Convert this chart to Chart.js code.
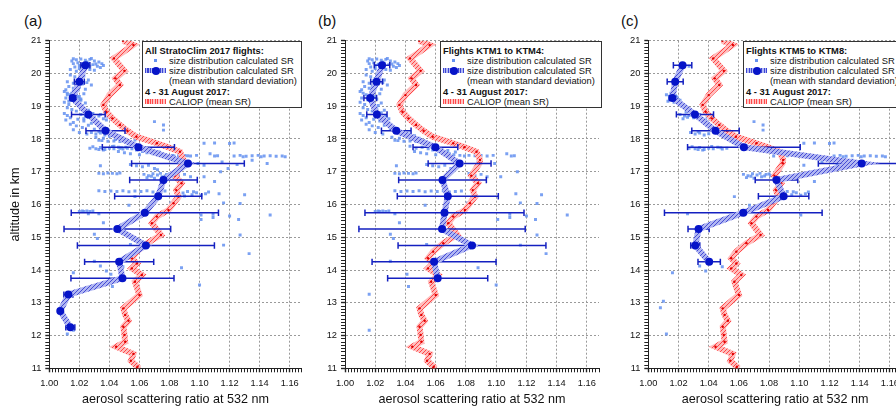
<!DOCTYPE html>
<html>
<head>
<meta charset="utf-8">
<script src="https://cdn.jsdelivr.net/npm/chart.js"></script>
<style>
    body { margin: 0; width: 896px; height: 407px; overflow: hidden; background: #fff; position: relative; font-family: "Liberation Sans", Arial, sans-serif; color: #111; }
    canvas { position: absolute; top: 0; }
    .tag { position: absolute; top: 12px; font-size: 15px; line-height: 17px; }
    .leg { position: absolute; top: 41px; height: 65px; border: 1px solid #333; background: #fff; z-index: 5; }
    .leg span { position: absolute; white-space: nowrap; font-size: 9.35px; line-height: 10px; }
    .leg .hd { font-weight: bold; left: 2px; }
    .leg .tx { left: 26px; }
    .sq { position: absolute; left: 11px; top: 17px; width: 3px; height: 3px; background: rgb(100,145,240); }
    .bband { position: absolute; left: 2px; top: 26px; width: 21px; height: 5px; background: repeating-linear-gradient(90deg, #3c44d4 0 1px, #b0b8f4 1px 2.5px); }
    .dot { position: absolute; left: 8.5px; top: 24.5px; width: 8px; height: 8px; border-radius: 50%; background: #0614c8; }
    .rband { position: absolute; left: 2px; top: 57px; width: 21px; height: 5px; background: repeating-linear-gradient(90deg, #ff4a4a 0 1px, #ffc4c4 1px 2.5px); }
</style>
</head>
<body>
<div class="tag" style="left:24px">(a)</div>
<div class="tag" style="left:318px">(b)</div>
<div class="tag" style="left:621px">(c)</div>

<canvas id="chartA" width="310" height="407" style="left:0px"></canvas>
<canvas id="chartB" width="310" height="407" style="left:300px"></canvas>
<canvas id="chartC" width="310" height="407" style="left:600px"></canvas>

<div class="leg" style="left:142px; width:158px">
    <span class="hd" style="top:4px">All StratoClim 2017 flights:</span>
    <i class="sq"></i><span class="tx" style="top:14px">size distribution calculated SR</span>
    <i class="bband"></i><i class="dot"></i><span class="tx" style="top:24px">size distribution calculated SR</span>
    <span class="tx" style="top:34px">(mean with standard deviation)</span>
    <span class="hd" style="top:45px">4 - 31 August 2017:</span>
    <i class="rband"></i><span class="tx" style="top:55px">CALIOP (mean SR)</span>
</div>
<div class="leg" style="left:440px; width:160px">
    <span class="hd" style="top:4px">Flights KTM1 to KTM4:</span>
    <i class="sq"></i><span class="tx" style="top:14px">size distribution calculated SR</span>
    <i class="bband"></i><i class="dot"></i><span class="tx" style="top:24px">size distribution calculated SR</span>
    <span class="tx" style="top:34px">(mean with standard deviation)</span>
    <span class="hd" style="top:45px">4 - 31 August 2017:</span>
    <i class="rband"></i><span class="tx" style="top:55px">CALIOP (mean SR)</span>
</div>
<div class="leg" style="left:743px; width:160px">
    <span class="hd" style="top:4px">Flights KTM5 to KTM8:</span>
    <i class="sq"></i><span class="tx" style="top:14px">size distribution calculated SR</span>
    <i class="bband"></i><i class="dot"></i><span class="tx" style="top:24px">size distribution calculated SR</span>
    <span class="tx" style="top:34px">(mean with standard deviation)</span>
    <span class="hd" style="top:45px">4 - 31 August 2017:</span>
    <i class="rband"></i><span class="tx" style="top:55px">CALIOP (mean SR)</span>
</div>

<script>
// altitude bins (km) of the mean profiles
const altA = [20.25, 19.75, 19.25, 18.75, 18.25, 17.75, 17.25, 16.75, 16.25, 15.75, 15.25, 14.75, 14.25, 13.75, 13.25, 12.75, 12.25];
const meanA = [1.024, 1.020, 1.0156, 1.026, 1.0374, 1.0593, 1.0923, 1.076, 1.0725, 1.0636, 1.0453, 1.0643, 1.0465, 1.0487, 1.0127, 1.0073, 1.014];
const sdA = [0.003, 0.0033, 0.0015, 0.0112, 0.013, 0.024, 0.0375, 0.0225, 0.029, 0.049, 0.0355, 0.0456, 0.023, 0.0343, 0.003, 0.0008, 0.003];

const altB = [20.25, 19.75, 19.25, 18.75, 18.25, 17.75, 17.25, 16.75, 16.25, 15.75, 15.25, 14.75, 14.25, 13.75];
const meanB = [1.0245, 1.0209, 1.0167, 1.0211, 1.0339, 1.0598, 1.0758, 1.0645, 1.068, 1.0658, 1.0642, 1.084, 1.0589, 1.0613];
const sdB = [0.0051, 0.0039, 0.0042, 0.0067, 0.0098, 0.0148, 0.0208, 0.029, 0.0334, 0.0526, 0.055, 0.0489, 0.041, 0.0331];

const altC = [20.25, 19.75, 19.25, 18.75, 18.25, 17.75, 17.25, 16.75, 16.25, 15.75, 15.25, 14.75, 14.25];
const meanC = [1.0227, 1.0178, 1.016, 1.0309, 1.0445, 1.0633, 1.1413, 1.0849, 1.0896, 1.0629, 1.0333, 1.0311, 1.0403];
const sdC = [0.0061, 0.0053, 0.002, 0.0123, 0.0157, 0.0373, 0.0287, 0.0141, 0.0167, 0.0522, 0.007, 0.003, 0.0074];

// CALIOP mean SR, 4 - 31 August 2017
const caliopAlt = [21.00, 20.87, 20.46, 20.08, 19.85, 19.65, 19.34, 19.04, 18.83, 18.63, 18.43, 18.25, 18.07, 17.87, 17.75, 17.61, 17.36,
    17.26, 16.88, 16.65, 16.44, 16.24, 16.04, 15.83, 15.63, 15.43, 15.07, 14.82, 14.56, 14.36, 14.20, 14.05, 13.85, 13.64, 13.24,
    12.83, 12.63, 12.45, 12.27, 12.02, 11.81, 11.66, 11.44, 11.23, 11.05, 11.00];
const caliopSR = [1.049, 1.056, 1.043, 1.050, 1.044, 1.047, 1.040, 1.036, 1.038, 1.042, 1.047, 1.052, 1.058, 1.0716, 1.079, 1.087, 1.0893,
    1.089, 1.0835, 1.088, 1.0845, 1.086, 1.0827, 1.0793, 1.0716, 1.0683, 1.0743, 1.065, 1.0583, 1.0549, 1.0583, 1.0549, 1.0616, 1.057, 1.060,
    1.0493, 1.0505, 1.0527, 1.0493, 1.050, 1.0505, 1.0445, 1.056, 1.0543, 1.0587, 1.0583];

// single size distribution SR values [SR, altitude], flights KTM1-KTM4
const scatterB = [
    [1.015,20.38],[1.018,20.42],[1.021,20.44],[1.024,20.40],[1.027,20.43],[1.030,20.38],[1.033,20.35],[1.035,20.30],[1.016,20.30],[1.019,20.33],
    [1.022,20.28],[1.026,20.31],[1.029,20.27],[1.032,20.22],[1.034,20.18],[1.017,20.20],[1.020,20.15],[1.023,20.19],[1.027,20.12],[1.030,20.10],
    [1.014,20.12],[1.018,20.07],[1.022,20.05],[1.025,20.35],[1.028,20.46],[1.031,20.29],[1.036,20.24],[1.020,20.24],[1.024,20.14],[1.016,20.45],
    [1.014,19.95],[1.017,19.90],[1.020,19.85],[1.023,19.92],[1.026,19.80],[1.012,19.75],[1.016,19.70],[1.019,19.78],[1.022,19.68],[1.025,19.72],
    [1.028,19.65],[1.013,19.60],[1.016,19.55],[1.020,19.58],[1.024,19.52],[1.011,19.50],[1.018,19.62],[1.021,19.98],
    [1.010,19.45],[1.012,19.40],[1.014,19.35],[1.017,19.42],[1.020,19.30],[1.023,19.38],[1.011,19.25],[1.015,19.20],[1.018,19.15],[1.021,19.22],
    [1.024,19.10],[1.013,19.05],[1.016,19.30],[1.019,19.48],[1.022,19.02],[1.010,19.12],
    [1.012,18.95],[1.015,18.90],[1.018,18.85],[1.021,18.92],[1.024,18.80],[1.027,18.70],[1.010,18.78],[1.014,18.65],[1.019,18.60],[1.023,18.55],
    [1.029,18.62],[1.016,18.50],[1.012,18.72],[1.026,18.88],[1.011,18.58],
    [1.014,18.45],[1.018,18.40],[1.022,18.35],[1.026,18.42],[1.030,18.30],[1.034,18.25],[1.038,18.20],[1.042,18.15],[1.046,18.10],[1.020,18.20],
    [1.025,18.15],[1.016,18.28],[1.031,18.05],[1.036,18.02],[1.040,18.08],[1.028,18.48],[1.044,17.98],[1.033,17.96],[1.049,18.02],
    [1.035,17.95],[1.039,17.93],[1.043,17.94],[1.047,17.92],[1.051,17.95],[1.054,17.90],
    [1.043,17.78],[1.047,17.72],[1.051,17.75],[1.055,17.70],[1.058,17.66],[1.062,17.62],[1.065,17.58],[1.069,17.55],[1.072,17.52],[1.076,17.50],
    [1.079,17.48],[1.046,17.62],[1.050,17.58],[1.054,17.55],[1.060,17.52],[1.064,17.70],[1.068,17.65],[1.057,17.80],[1.061,17.75],[1.073,17.60],
    [1.082,17.50],[1.086,17.49],[1.090,17.50],[1.094,17.48],[1.098,17.50],[1.107,17.55],[1.110,17.48],[1.112,17.49],
    [1.054,17.22],[1.058,17.18],[1.062,17.15],[1.066,17.20],[1.070,17.10],[1.072,17.06],[1.034,17.18],[1.099,17.25],[1.088,17.30],
    [1.033,16.95],[1.036,16.94],[1.039,16.96],[1.042,16.95],[1.045,16.94],[1.047,16.96],[1.082,16.95],[1.086,16.88],[1.090,16.92],[1.094,16.85],
    [1.103,16.85],[1.114,17.00],
    [1.033,16.42],[1.037,16.40],[1.041,16.41],[1.045,16.40],[1.049,16.42],[1.053,16.39],[1.057,16.41],[1.061,16.40],[1.065,16.42],[1.069,16.38],
    [1.073,16.40],[1.077,16.41],[1.113,16.33],[1.130,16.30],
    [1.020,15.79],[1.022,15.80],[1.023,15.79],[1.025,15.80],[1.027,15.79],[1.029,15.80],[1.033,15.72],[1.053,15.98],[1.081,16.05],[1.116,16.05],
    [1.127,16.03],[1.036,15.44],[1.030,15.09],[1.032,14.96],[1.101,15.54],[1.109,15.60],[1.120,15.65],[1.126,15.54],[1.147,15.68],[1.109,15.70],
    [1.127,15.07],[1.054,14.78],[1.116,14.76],[1.133,14.50],[1.030,14.27],[1.088,14.07],[1.041,13.87],[1.042,13.50],[1.100,13.54],[1.016,13.26],
    [1.016,12.16]
];

// flights KTM5-KTM8
const scatterC = [
    [1.027,20.22],[1.022,20.18],
    [1.012,19.35],[1.014,19.30],[1.016,19.25],[1.018,19.32],[1.020,19.20],[1.013,19.15],[1.015,19.40],[1.017,19.12],[1.019,19.28],[1.021,19.18],
    [1.014,19.22],[1.016,19.45],[1.018,19.55],
    [1.021,18.75],[1.024,18.70],[1.027,18.72],[1.030,18.65],[1.033,18.70],[1.036,18.62],[1.039,18.68],[1.041,18.60],[1.023,18.62],[1.026,18.66],
    [1.029,18.78],[1.034,18.75],[1.038,18.58],[1.025,18.82],
    [1.028,18.20],[1.031,18.15],[1.034,18.18],[1.037,18.12],[1.040,18.16],[1.033,18.22],[1.057,17.97],[1.070,18.53],[1.076,18.43],[1.076,18.27],
    [1.027,17.72],[1.031,17.70],[1.034,17.74],[1.037,17.68],[1.040,17.72],[1.043,17.70],[1.046,17.75],[1.049,17.69],[1.052,17.72],[1.029,17.76],
    [1.036,17.66],[1.042,17.77],[1.048,17.73],[1.033,17.68],
    [1.103,17.87],[1.110,17.88],[1.120,17.86],[1.123,17.88],
    [1.123,17.48],[1.127,17.50],[1.131,17.47],[1.135,17.49],[1.139,17.50],[1.143,17.48],[1.147,17.49],[1.151,17.47],[1.155,17.48],[1.157,17.46],
    [1.083,17.48],[1.088,17.47],[1.092,17.49],[1.129,17.46],[1.141,17.46],
    [1.115,17.30],[1.125,17.22],[1.135,17.35],[1.145,17.25],[1.119,17.10],[1.103,17.20],
    [1.063,16.92],[1.066,16.88],[1.069,16.94],[1.072,16.90],[1.075,16.85],[1.078,16.92],[1.081,16.88],[1.083,16.82],[1.065,16.82],[1.070,16.80],
    [1.074,16.95],[1.077,16.87],[1.080,16.93],[1.068,16.86],[1.110,16.70],
    [1.086,16.38],[1.089,16.35],[1.092,16.40],[1.095,16.30],[1.098,16.36],[1.101,16.28],[1.104,16.33],[1.106,16.38],[1.090,16.26],[1.096,16.39],
    [1.057,16.24],
    [1.067,15.98],[1.026,15.72],[1.101,15.68],[1.034,14.12],[1.038,13.97],[1.049,14.10],[1.016,13.92],[1.010,13.05],[1.008,12.85],[1.012,12.05]
];

const xTicksMajor = [1.00, 1.02, 1.04, 1.06, 1.08, 1.10, 1.12, 1.14, 1.16];
const yTicksMajor = [11, 12, 13, 14, 15, 16, 17, 18, 19, 20, 21];

function hatch(dark, light) {
    const c = document.createElement('canvas');
    c.width = 4; c.height = 4;
    const g = c.getContext('2d');
    g.fillStyle = light;
    g.fillRect(0, 0, 4, 4);
    g.strokeStyle = dark;
    g.lineWidth = 0.9;
    g.beginPath();
    g.moveTo(0, 4); g.lineTo(4, 0);
    g.moveTo(-1, 1); g.lineTo(1, -1);
    g.moveTo(3, 5); g.lineTo(5, 3);
    g.stroke();
    return g.createPattern(c, 'repeat');
}

const isMajorX = v => xTicksMajor.some(t => Math.abs(t - v) < 1e-6);
const isMajorY = v => yTicksMajor.some(t => Math.abs(t - v) < 1e-6);

function errorBars(alts, means, sds) {
    const pts = [];
    alts.forEach((a, i) => {
        pts.push({ x: means[i] - sds[i], y: a }, { x: means[i] + sds[i], y: a }, { x: null, y: null });
    });
    return pts;
}

function makePanel(id, scatter, alts, means, sds, padLeft, yWidth, padRight, yTitle) {
    const ctx = document.getElementById(id).getContext('2d');
    const tickFont = { family: '"Liberation Sans", Arial, sans-serif', size: 9.3 };
    const titleFont = { family: '"Liberation Sans", Arial, sans-serif', size: 12.6 };
    new Chart(ctx, {
        type: 'scatter',
        data: {
            datasets: [
                {
                    data: scatter.map(p => ({ x: p[0], y: p[1] })),
                    pointStyle: 'rect',
                    pointRadius: 2.1,
                    pointBorderWidth: 0,
                    backgroundColor: 'rgba(100,145,240,0.85)',
                    order: 4
                },
                {
                    data: caliopAlt.map((a, i) => ({ x: caliopSR[i], y: a })),
                    showLine: true,
                    borderColor: hatch('#ff3a3a', '#ffbdbd'),
                    borderWidth: 6,
                    pointRadius: 1.2,
                    pointBorderWidth: 0,
                    backgroundColor: '#e00000',
                    order: 3
                },
                {
                    data: alts.map((a, i) => ({ x: means[i], y: a })),
                    showLine: true,
                    borderColor: hatch('#3a40d0', '#b0b6f2'),
                    borderWidth: 6,
                    pointRadius: 4,
                    pointBorderWidth: 0,
                    backgroundColor: '#0614c8',
                    order: 1
                },
                {
                    data: errorBars(alts, means, sds),
                    showLine: true,
                    spanGaps: false,
                    borderColor: '#1420c0',
                    borderWidth: 1.5,
                    pointStyle: 'line',
                    pointRotation: 90,
                    pointRadius: 3.2,
                    pointBorderWidth: 1.5,
                    pointBorderColor: '#1420c0',
                    order: 2
                }
            ]
        },
        options: {
            responsive: false,
            animation: false,
            layout: { padding: { left: padLeft, right: padRight, top: 40.7, bottom: 0 } },
            plugins: { legend: { display: false }, tooltip: { enabled: false } },
            scales: {
                x: {
                    type: 'linear',
                    min: 1.0,
                    max: 1.168,
                    afterFit: s => { s.height = 38.7; },
                    ticks: {
                        stepSize: 0.002,
                        autoSkip: false,
                        maxRotation: 0,
                        padding: 6,
                        color: '#111',
                        font: tickFont,
                        callback: v => isMajorX(v) ? v.toFixed(2) : ''
                    },
                    grid: {
                        color: c => (c.tick && isMajorX(c.tick.value) ? '#9a9a9a' : 'transparent'),
                        tickColor: '#222',
                        tickLength: 4,
                        tickWidth: c => (c.tick && isMajorX(c.tick.value) ? 1.4 : 1)
                    },
                    border: { color: '#222', width: 1, dash: [2, 2] },
                    title: { display: true, text: 'aerosol scattering ratio at 532 nm', color: '#111', font: titleFont, padding: { top: 0, bottom: 0 } }
                },
                y: {
                    type: 'linear',
                    min: 11,
                    max: 21,
                    afterFit: s => { s.width = yWidth; },
                    ticks: {
                        stepSize: 0.1,
                        autoSkip: false,
                        padding: 4,
                        color: '#111',
                        font: tickFont,
                        callback: v => isMajorY(v) ? String(Math.round(v)) : ''
                    },
                    grid: {
                        color: c => (c.tick && isMajorY(c.tick.value) ? '#9a9a9a' : 'transparent'),
                        tickColor: '#222',
                        tickLength: 4,
                        tickWidth: c => (c.tick && isMajorY(c.tick.value) ? 1.4 : 1)
                    },
                    border: { color: '#222', width: 1, dash: [2, 2] },
                    title: { display: !!yTitle, text: yTitle || '', color: '#111', font: titleFont, padding: { top: 7.5, bottom: 0 } }
                }
            }
        }
    });
}

makePanel('chartA', scatterB.concat(scatterC), altA, meanA, sdA, 0, 49.3, 8.3, 'altitude in km');
makePanel('chartB', scatterB, altB, meanB, sdB, 5, 40, 11, null);
makePanel('chartC', scatterC, altC, meanC, sdC, 8.3, 40, 8, null);
</script>
</body>
</html>
